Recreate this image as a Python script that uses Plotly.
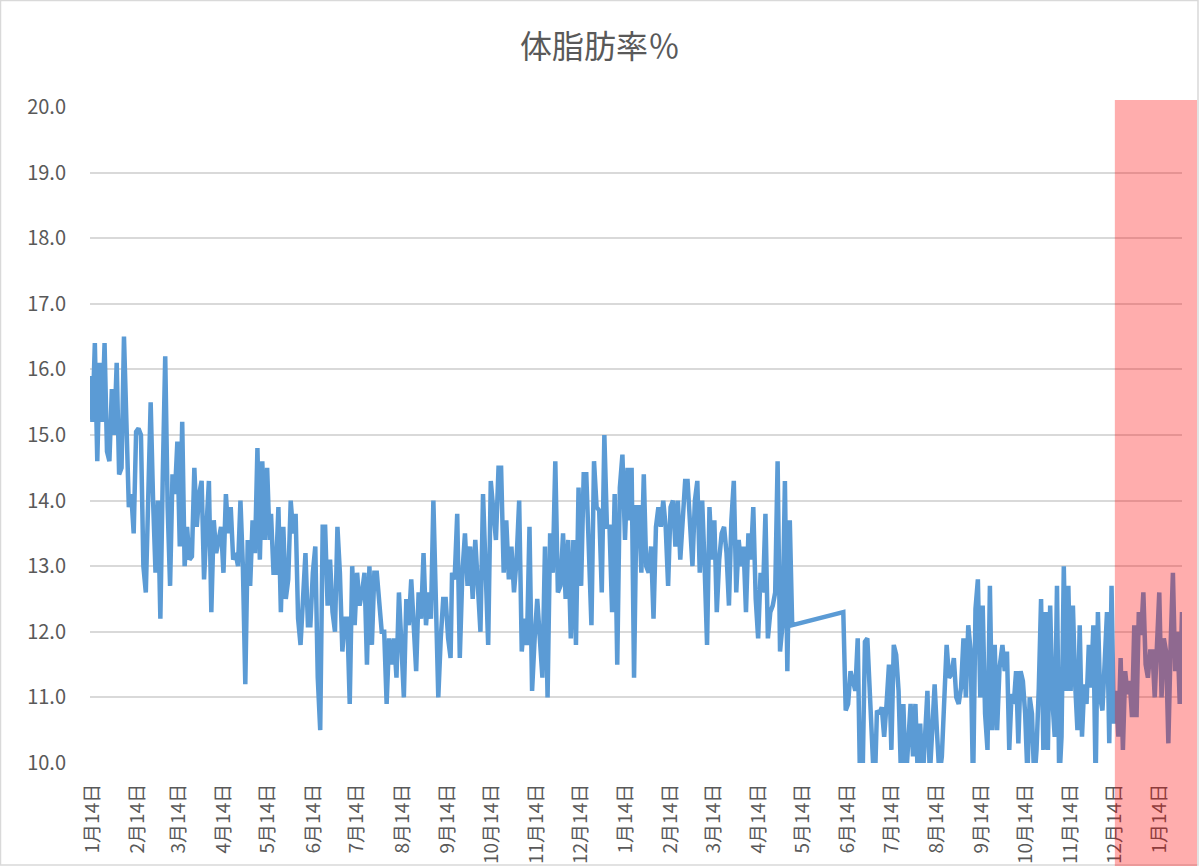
import pandas as pd
import plotly.graph_objects as go

# 体脂肪率(%)  グラフから読み取った値を区間ごとに並べる
seg_1 = [15.9, 15.2, 16.4, 14.6, 16.1, 15.2, 16.4, 14.75, 14.6, 15.7, 15.0, 16.1, 14.4, 14.5, 16.5,
         15.2, 13.9, 14.1, 13.5, 15.05, 15.1, 15.0, 13.0, 12.6, 14.0, 15.5, 14.0, 12.9, 14.0, 12.2,
         14.4, 16.2, 13.9, 12.7, 14.4, 14.1, 14.9, 13.3, 15.2, 13.0, 13.6, 13.1, 13.15, 14.5, 13.6,
         14.1, 14.3, 12.8, 13.6, 14.3, 12.3, 13.7, 13.2, 13.4, 13.6, 12.9, 14.1, 13.5, 13.9, 13.1,
         13.2, 13.0, 14.0, 13.0, 11.2, 13.4, 12.7, 13.7, 13.2, 14.8, 13.1, 14.6, 13.4, 14.5, 13.4]
seg_2 = [13.8, 12.9, 12.9, 13.9, 12.3, 13.6, 12.5, 12.8, 14.0, 13.5, 13.8, 12.2, 11.8, 12.6, 13.2,
         12.1, 12.1, 12.9, 13.3, 11.3, 10.5, 13.6, 13.6, 12.4, 13.1, 12.3, 12.0, 13.6, 12.9, 11.7,
         12.2, 12.2, 10.9, 13.0, 12.1, 12.9, 12.4, 12.6, 12.9, 11.5, 13.0, 11.8, 12.9, 12.9, 12.5,
         12.0, 12.0, 10.9, 11.9, 11.5, 11.9, 11.3, 12.6, 11.9, 11.0, 12.5, 12.1, 12.8, 12.2, 11.4,
         12.6, 12.2, 13.2, 12.1, 12.6, 12.2, 14.0, 12.7, 11.0, 11.9, 12.5, 12.5, 11.9, 11.6]
seg_3 = [12.9, 12.8, 13.8, 11.6, 12.9, 13.5, 12.7, 13.3, 12.5, 13.4, 12.8, 12.0, 14.1, 13.0, 11.8,
         14.3, 13.8, 13.4, 14.5, 14.5, 12.9, 13.7, 12.8, 13.3, 12.6, 13.1, 14.0, 11.7, 12.2, 11.8,
         13.6, 11.1, 11.9, 12.5, 11.9, 11.3, 13.3, 11.0, 13.5, 12.9, 14.6, 12.6, 12.7, 13.5, 12.5,
         13.4, 11.9, 13.4, 11.8, 14.2, 12.7, 14.4, 14.4, 13.0, 12.1, 14.6, 13.9, 13.85, 12.6, 15.0,
         13.6, 13.6, 12.3, 14.1, 11.5, 14.2, 14.7, 13.4, 14.5, 13.7]
seg_4 = [14.5, 11.3, 13.9, 13.9, 12.9, 14.4, 13.0, 12.9, 13.3, 12.2, 13.6, 13.9, 13.6, 14.0, 13.6,
         12.7, 13.9, 14.0, 13.3, 14.0, 13.1, 13.7, 14.3, 14.3, 13.5, 13.0, 14.0, 14.3, 12.9, 14.0,
         13.0, 11.8, 13.9, 13.1, 13.7, 12.3, 13.1, 13.5, 13.6, 13.2, 12.4, 13.7, 14.3, 12.6, 13.4,
         13.0, 13.3, 12.3, 13.5, 13.1, 13.9, 12.5, 11.9, 12.9, 12.6, 13.8, 11.9, 12.3, 12.4, 12.6,
         14.6, 11.7, 12.1, 14.3, 11.4, 13.7, 12.1]
seg_5 = [12.3, 10.8, 10.9, 11.4, 11.25, 11.1, 11.9, 9.6, 9.7, 11.85, 11.9, 10.9, 10.2, 9.5, 10.8,
         10.75, 10.85, 10.4, 10.9, 11.5, 10.2, 11.8, 11.65, 11.1, 9.8, 10.9, 9.7, 10.4, 10.9, 10.1,
         10.9, 9.8, 10.6, 9.7, 10.45, 11.1, 9.8, 10.45, 11.2, 10.45, 9.8, 10.1, 11.05, 11.8, 11.3,
         11.35, 11.6, 11.0, 10.9, 11.15, 11.9, 11.0, 12.1, 11.7, 9.6, 12.35, 12.8, 11.0, 12.4, 10.75,
         10.2, 12.7, 10.5, 11.8, 10.5, 11.45]
seg_6 = [11.8, 11.4, 11.7, 10.2, 11.05, 10.9, 11.4, 10.3, 11.4, 11.25, 10.75, 9.8, 11.0, 10.75, 9.7,
         10.2, 11.15, 12.5, 10.2, 12.3, 10.2, 12.4, 10.95, 10.4, 12.7, 9.7, 10.4, 13.0, 11.1, 12.7,
         11.1, 12.4, 11.2, 10.5, 12.1, 10.4, 11.2, 10.9, 11.8, 11.15, 12.1, 9.7, 12.3, 11.0, 10.8,
         11.7, 12.3, 10.3, 12.7, 10.6, 11.1, 10.4, 11.6, 10.2, 11.4, 11.05, 11.25, 10.7, 12.1, 10.7,
         12.3, 11.95, 12.6, 11.5, 11.3, 11.7, 11.7, 11.0, 11.7, 12.6, 11.0, 11.9, 11.7, 10.3, 11.8,
         12.9, 11.4, 12.0, 10.9, 12.3]

# 各区間の測定期間 (5月〜6月は記録なし)
seg_start = ["2019-01-12", "2019-05-16", "2019-09-17", "2020-01-18", "2020-06-11", "2020-09-28"]
seg_end = ["2019-05-15", "2019-09-16", "2020-01-17", "2020-05-07", "2020-09-26", "2021-01-29"]
segments = [seg_1, seg_2, seg_3, seg_4, seg_5, seg_6]

highlight_from = "2020-12-14"

tick_dates = pd.date_range("2019-01-14", "2021-01-14", freq=pd.DateOffset(months=1))
tick_text = [f"{d.month}月14日" for d in tick_dates]

dates = []
values = []
for s, e, v in zip(seg_start, seg_end, segments):
    dates += list(pd.date_range(s, e, periods=len(v)))
    values += v

x_min = pd.Timestamp(seg_start[0])
x_max = pd.Timestamp(seg_end[-1])
# ハイライト開始位置 (paper座標)
hl_x0 = (pd.Timestamp(highlight_from) - x_min) / (x_max - x_min)

font_jp = "Noto Sans CJK JP"
grey = "#595959"

fig = go.Figure()
fig.add_trace(go.Scatter(
    x=dates, y=values, mode="lines",
    line=dict(color="#5B9BD5", width=4.5),
    hoverinfo="x+y",
))

fig.update_layout(
    width=1200, height=866,
    margin=dict(l=90, r=18, t=107, b=103),
    paper_bgcolor="white", plot_bgcolor="white",
    showlegend=False,
    font=dict(family=font_jp, color=grey),
    title=dict(text="体脂肪率％", x=0.5, xref="container", y=0.946, yref="container",
               xanchor="center", yanchor="middle",
               font=dict(family=font_jp, size=32, color=grey)),
    xaxis=dict(type="date", range=[x_min, x_max], automargin=False,
               tickvals=list(tick_dates), ticktext=tick_text, tickangle=-90,
               showgrid=False, zeroline=False, showline=False, ticks="",
               ticklabelstandoff=16,
               tickfont=dict(family=font_jp, size=19, color=grey)),
    yaxis=dict(range=[10, 20], dtick=1, tickformat=".1f", automargin=False,
               gridcolor="#D9D9D9", gridwidth=1.5, zeroline=False, showline=False, ticks="",
               ticklabelstandoff=23,
               tickfont=dict(family=font_jp, size=20, color=grey)),
    shapes=[
        # グラフ枠
        dict(type="rect", xref="paper", yref="paper",
             x0=-89.5 / 1092, x1=1108 / 1092, y0=-102 / 656, y1=762.5 / 656,
             line=dict(color="#D9D9D9", width=1.5), fillcolor="rgba(0,0,0,0)", layer="below"),
        # 直近期間のハイライト
        dict(type="rect", xref="paper", yref="paper",
             x0=hl_x0, x1=1107 / 1092, y0=-103 / 656, y1=663 / 656,
             line=dict(width=0), fillcolor="rgba(255,0,0,0.32)", layer="above"),
    ],
)

# ページ余白を消して 1200x866 にぴったり合わせる
fig.write_html("out.html", config={"displayModeBar": False},
               post_script="document.body.style.margin='0';")
